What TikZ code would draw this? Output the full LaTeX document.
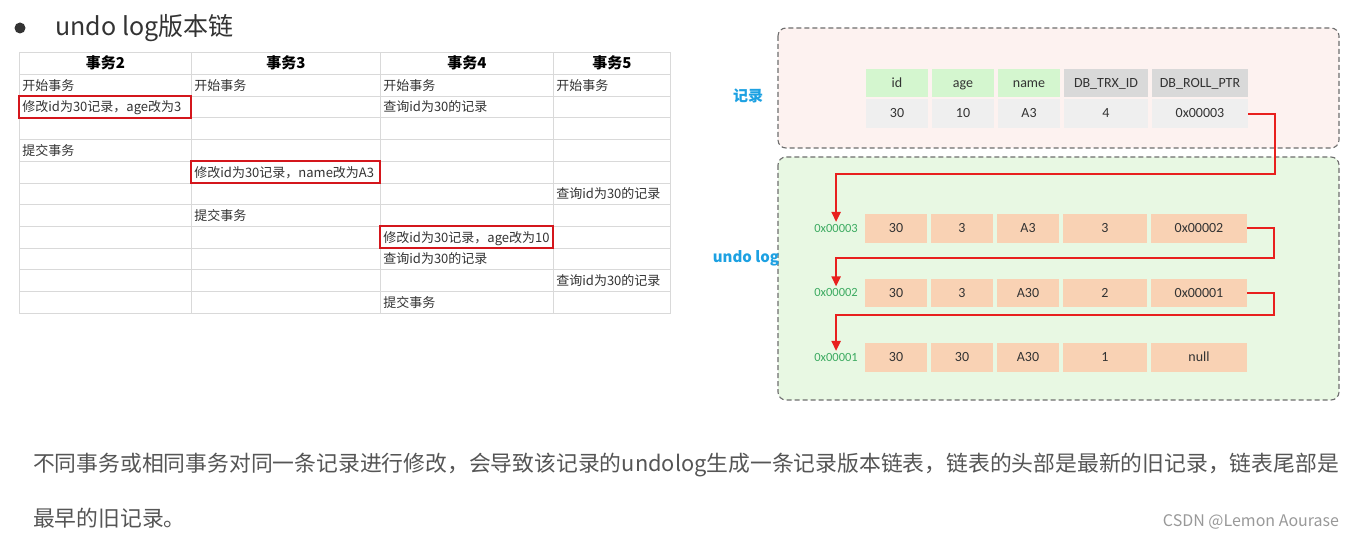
\documentclass[tikz,border=0pt]{standalone}
\usepackage{fontspec}
\setmainfont{Noto Sans CJK SC}
\newfontfamily\calib{Carlito}
\usetikzlibrary{matrix,positioning,arrows.meta}

\definecolor{gridgray}{HTML}{D9D9D9}
\definecolor{txtgray}{HTML}{333333}
\definecolor{boxred}{HTML}{D4161C}
\definecolor{dashgray}{HTML}{6E6E6E}
\definecolor{recbg}{HTML}{FDF2F0}
\definecolor{undobg}{HTML}{E8F8E3}
\definecolor{hdgreen}{HTML}{D4F6CF}
\definecolor{hdgray}{HTML}{D9D9D9}
\definecolor{rowgray}{HTML}{EFEFEF}
\definecolor{peach}{HTML}{F9D2B4}
\definecolor{addrgreen}{HTML}{3BAA60}
\definecolor{labelblue}{HTML}{1DA1E2}
\definecolor{ptrred}{HTML}{E8201E}
\definecolor{bodygray}{HTML}{555555}

\tikzset{
  cellbox/.style={draw=gridgray, line width=0.8pt, inner xsep=3pt, inner ysep=0pt,
    minimum height=21.7pt, text height=11pt, text depth=1pt, align=left,
    font=\fontsize{13pt}{15pt}\selectfont, text=txtgray, anchor=center},
  headcell/.style={align=center, minimum height=22pt,
    font=\fontsize{15pt}{17pt}\selectfont\bfseries, text=black},
  hilite/.style={draw=boxred, line width=2pt},
  fieldcell/.style={inner sep=0pt, minimum height=28.5pt, text height=10pt, text depth=1.5pt,
    font=\calib\fontsize{14pt}{16pt}\selectfont, text=txtgray, anchor=center},
  dashbox/.style={draw=dashgray, line width=1.1pt, dash pattern=on 5pt off 3pt, rounded corners=8pt},
  sidelabel/.style={font=\fontsize{15pt}{17pt}\selectfont\bfseries, text=labelblue},
  addr/.style={font=\calib\fontsize{12.5pt}{14pt}\selectfont, text=addrgreen, inner sep=2pt},
  ptr/.style={draw=ptrred, line width=2pt, -{Triangle[length=10pt,width=9pt]}},
  bodytext/.style={font=\fontsize{21.8pt}{26pt}\selectfont, text=bodygray, anchor=west, inner sep=0pt},
  wmtext/.style={font=\fontsize{16pt}{18pt}\selectfont, text=black!40, inner sep=0pt}
}

\begin{document}
\begin{tikzpicture}[x=1pt, y=-1pt]
\fill[white] (0,0) rectangle (1350,540);
\useasboundingbox (0,0) rectangle (1350,540);

% title
\node[circle, fill=txtgray, minimum size=11pt, inner sep=0pt] (dot) at (20,28) {};
\node[anchor=west, font=\fontsize{25pt}{28pt}\selectfont, text=txtgray] (title) at (52,28) {undo log版本链};

% transaction table
\matrix (t) [matrix of nodes, nodes in empty cells, anchor=north west, inner sep=0pt, outer sep=0pt,
  column sep=-0.8pt, row sep=-0.8pt, nodes={cellbox},
  row 1/.style={nodes={headcell}},
  column 1/.style={nodes={text width=166pt}},
  column 2/.style={nodes={text width=183pt}},
  column 3/.style={nodes={text width=167pt}},
  column 4/.style={nodes={text width=111pt}}] at (19,52) {
事务2 & 事务3 & 事务4 & 事务5 \\
开始事务 & 开始事务 & 开始事务 & 开始事务 \\
修改id为30记录，age改为3 & & 查询id为30的记录 & \\
 & & & \\
提交事务 & & & \\
 & 修改id为30记录，name改为A3 & & \\
 & & & 查询id为30的记录 \\
 & 提交事务 & & \\
 & & 修改id为30记录，age改为10 & \\
 & & 查询id为30的记录 & \\
 & & & 查询id为30的记录 \\
 & & 提交事务 & \\
};

\draw[hilite] (t-3-1.south west) rectangle (t-3-1.north east);
\draw[hilite] (t-6-2.south west) rectangle (t-6-2.north east);
\draw[hilite] (t-9-3.south west) rectangle (t-9-3.north east);

% record and undo log areas
\draw[dashbox, fill=recbg] (778,28) rectangle (1339,148);
\draw[dashbox, fill=undobg] (778,157) rectangle (1339,400);

\node[sidelabel] (reclbl) at (748,96) {记录};
\node[sidelabel] (undolbl) at (746,258) {undo log};

\matrix (rec) [matrix of nodes, anchor=north west, inner sep=0pt, outer sep=0pt,
  column sep=4pt, row sep=2pt, nodes={fieldcell},
  row 1/.style={nodes={fill=hdgreen}},
  row 1 column 4/.style={nodes={fill=hdgray}},
  row 1 column 5/.style={nodes={fill=hdgray}},
  row 2/.style={nodes={fill=rowgray}},
  column 1/.style={nodes={minimum width=62pt}},
  column 2/.style={nodes={minimum width=62pt}},
  column 3/.style={nodes={minimum width=62pt}},
  column 4/.style={nodes={minimum width=84pt}},
  column 5/.style={nodes={minimum width=96pt}}] at (866,69) {
id & age & name & DB\_TRX\_ID & DB\_ROLL\_PTR \\
30 & 10 & A3 & 4 & 0x00003 \\
};

\matrix (u) [matrix of nodes, anchor=north west, inner sep=0pt, outer sep=0pt,
  column sep=4pt, row sep=36pt, nodes={fieldcell, fill=peach},
  column 1/.style={nodes={minimum width=62pt}},
  column 2/.style={nodes={minimum width=62pt}},
  column 3/.style={nodes={minimum width=62pt}},
  column 4/.style={nodes={minimum width=84pt}},
  column 5/.style={nodes={minimum width=96pt}}] at (865,214) {
30 & 3 & A3 & 3 & 0x00002 \\
30 & 3 & A30 & 2 & 0x00001 \\
30 & 30 & A30 & 1 & null \\
};

\node[addr, left=5pt of u-1-1] (a3) {0x00003};
\node[addr, left=5pt of u-2-1] (a2) {0x00002};
\node[addr, left=5pt of u-3-1] (a1) {0x00001};

% roll pointers
\draw[ptr] (rec-2-5.east) -| ++(27,60) -| (a3.north);
\draw[ptr] (u-1-5.east) -| ++(27,30) -| (a2.north);
\draw[ptr] (u-2-5.east) -| ++(27,22) -| (a1.north);

% note
\node[bodytext] (note1) at (33,465) {不同事务或相同事务对同一条记录进行修改，会导致该记录的undolog生成一条记录版本链表，链表的头部是最新的旧记录，链表尾部是};
\node[bodytext] (note2) at (33,518) {最早的旧记录。};
\node[wmtext] (wm) at (1251,522) {CSDN @Lemon Aourase};
\end{tikzpicture}
\end{document}
